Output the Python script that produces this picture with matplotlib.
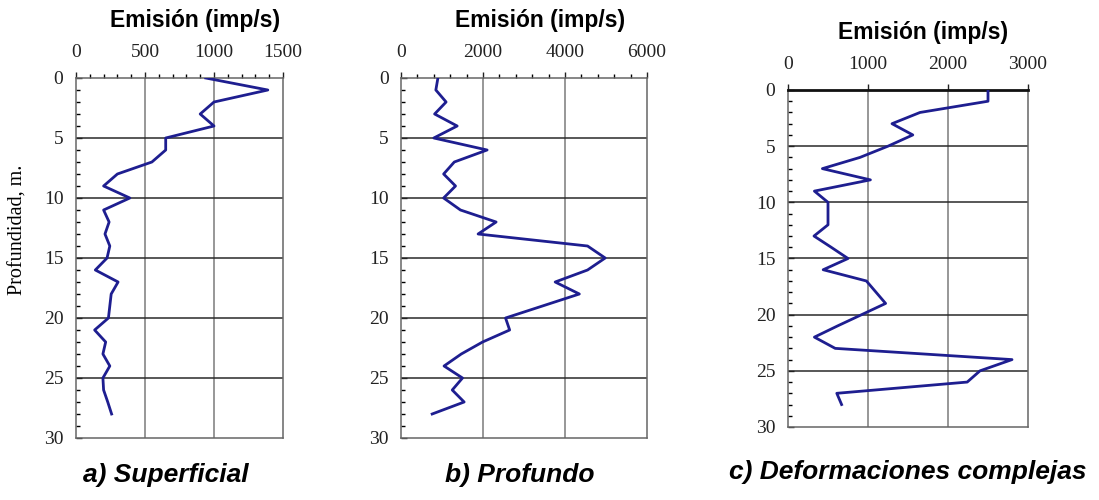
import matplotlib
matplotlib.use("Agg")
import matplotlib.pyplot as plt
from matplotlib.ticker import MultipleLocator

# ---- data ----
depth = list(range(0, 29))
emis_superficial = [940, 1390, 1000, 900, 1000, 650, 650, 550, 300, 200,
                    390, 200, 240, 210, 245, 225, 140, 305, 255, 245,
                    235, 135, 215, 195, 245, 195, 200, 230, 258]
emis_profundo = [900, 850, 1100, 820, 1370, 800, 2100, 1300, 1040, 1330,
                 1040, 1450, 2320, 1880, 4550, 4980, 4550, 3760, 4350, 3450,
                 2550, 2650, 1990, 1470, 1050, 1500, 1250, 1540, 760]
emis_complejas = [2500, 2500, 1650, 1300, 1560, 1250, 900, 430, 1030, 330,
                  500, 500, 500, 325, 540, 750, 440, 980, 1100, 1220,
                  920, 620, 330, 590, 2800, 2400, 2240, 610, 670]

x_max = [1500, 6000, 3000]
x_major = [500, 2000, 1000]
x_minor = [100, 400, None]
captions = ["a) Superficial", "b) Profundo", "c) Deformaciones complejas"]
xlabel = "Emisión (imp/s)"
ylabel = "Profundidad, m."

W, H = 1099, 500
fig = plt.figure(figsize=(W / 100, H / 100), dpi=100)

# axes boxes in pixels: left, top, right, bottom
boxes = [(76, 78, 283, 438), (401, 78, 647, 438), (788, 90, 1028, 427)]
series = [emis_superficial, emis_profundo, emis_complejas]
title_pos = [(195, 20), (540, 20), (923, 32)]
cap_pos = [(166, 475), (520, 475), (908, 472)]

serif = ["Liberation Serif", "DejaVu Serif"]
sans = ["Liberation Sans", "DejaVu Sans"]

for i in range(3):
    l, t, r, b = boxes[i]
    ax = fig.add_axes([l / W, 1 - b / H, (r - l) / W, (b - t) / H])
    ax.plot(series[i], depth, color="#1e1e90", lw=2.0, zorder=3)
    ax.set_xlim(0, x_max[i])
    ax.set_ylim(30, 0)
    ax.xaxis.set_major_locator(MultipleLocator(x_major[i]))
    if x_minor[i]:
        ax.xaxis.set_minor_locator(MultipleLocator(x_minor[i]))
    ax.yaxis.set_major_locator(MultipleLocator(5))
    ax.yaxis.set_minor_locator(MultipleLocator(1))
    ax.xaxis.tick_top()
    ax.tick_params(axis="x", which="major", direction="out", length=4,
                   width=1, pad=8, labelsize=14, colors="#222")
    ax.tick_params(axis="x", which="minor", direction="out", length=3, width=1)
    ax.tick_params(axis="y", which="major", direction="in", length=4,
                   width=1, pad=9, labelsize=14, colors="#222")
    ax.tick_params(axis="y", which="minor", direction="in", length=3, width=1)
    for lab in ax.get_xticklabels() + ax.get_yticklabels():
        lab.set_family(serif)
    for xv in range(x_major[i], x_max[i], x_major[i]):
        ax.axvline(xv, color="#7a7a7a", lw=1.1, zorder=1)
    for yv in range(5, 30, 5):
        ax.axhline(yv, color="#2a2a2a", lw=1.1, zorder=1)
    for s in ax.spines.values():
        s.set_color("#666")
        s.set_linewidth(1.1)
    if i == 2:
        ax.spines["top"].set_color("#111")
        ax.spines["top"].set_linewidth(2)
    fig.text(title_pos[i][0] / W, 1 - title_pos[i][1] / H, xlabel,
             ha="center", va="center", fontsize=16.5, fontweight="bold",
             family=sans)
    fig.text(cap_pos[i][0] / W, 1 - cap_pos[i][1] / H, captions[i],
             ha="center", va="center", fontsize=19, fontweight="bold",
             style="italic", family=sans)

fig.text(18 / W, 1 - 230 / H, ylabel, rotation=90, ha="center", va="center",
         fontsize=14.5, family=serif)

fig.savefig("out.png", dpi=100)
